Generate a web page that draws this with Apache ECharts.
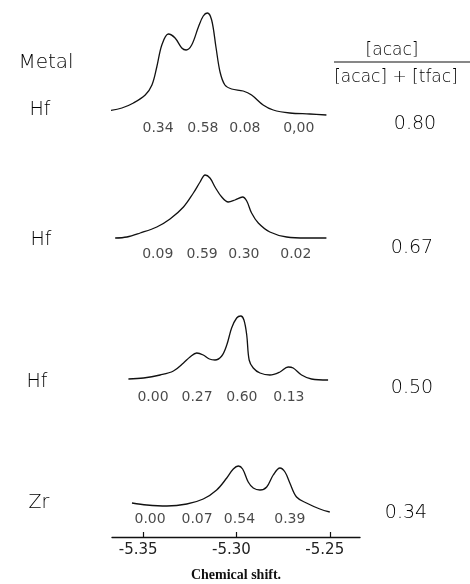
<!DOCTYPE html>
<html>
<head>
<meta charset="utf-8">
<script src="https://cdn.jsdelivr.net/npm/echarts@6/dist/echarts.min.js"></script>
<style>
html,body{margin:0;padding:0;background:#fff;}
#chart{width:470px;height:584px;}
</style>
</head>
<body>
<div id="chart"></div>
<script>
// ---- data (chemical shift, relative intensity) ----
const shiftTicks = [-5.35, -5.30, -5.25];
const metals = ['Hf', 'Hf', 'Hf', 'Zr'];
const ratios = ['0.80', '0.67', '0.50', '0.34'];

const spectrum1 = [[-5.3694,9],[-5.3614,12],[-5.3552,17],[-5.3489,25],[-5.3453,35],[-5.3427,53],[-5.3400,75],[-5.3365,86],[-5.3329,82],[-5.3293,72],[-5.3270,70],[-5.3240,75],[-5.3204,93],[-5.3178,104],[-5.3156,107],[-5.3133,100],[-5.3110,73],[-5.3088,48],[-5.3062,35],[-5.3026,31],[-5.2964,29],[-5.2919,25],[-5.2857,15],[-5.2803,10],[-5.2714,7],[-5.2607,6],[-5.2518,5]];
const spectrum2 = [[-5.3650,7],[-5.3587,8],[-5.3516,12],[-5.3427,18],[-5.3356,26],[-5.3284,38],[-5.3231,52],[-5.3195,63],[-5.3168,70],[-5.3142,67],[-5.3115,58],[-5.3079,48],[-5.3044,43],[-5.3008,45],[-5.2967,48],[-5.2945,44],[-5.2919,32],[-5.2883,22],[-5.2821,13],[-5.2731,8],[-5.2625,7],[-5.2518,7]];
const spectrum3 = [[-5.3579,11],[-5.3498,12],[-5.3409,15],[-5.3338,19],[-5.3284,27],[-5.3249,33],[-5.3213,37],[-5.3178,35],[-5.3145,31],[-5.3115,30],[-5.3079,34],[-5.3052,45],[-5.3026,62],[-5.2999,72],[-5.2977,74],[-5.2960,70],[-5.2945,55],[-5.2932,30],[-5.2910,22],[-5.2874,17],[-5.2821,15],[-5.2767,18],[-5.2723,23],[-5.2696,22],[-5.2651,15],[-5.2598,11],[-5.2509,10]];
const spectrum4 = [[-5.3560,34],[-5.3480,32],[-5.3373,31],[-5.3266,33],[-5.3178,38],[-5.3106,47],[-5.3052,59],[-5.3017,68],[-5.2990,71],[-5.2967,68],[-5.2937,55],[-5.2910,49],[-5.2874,47],[-5.2838,50],[-5.2803,62],[-5.2767,69],[-5.2740,65],[-5.2714,54],[-5.2678,40],[-5.2625,34],[-5.2553,28],[-5.2500,25]];

const fractions1 = ['0.34', '0.58', '0.08', '0,00'];
const fractionShifts1 = [-5.3420, -5.3180, -5.2955, -5.2666];
const fractions2 = ['0.09', '0.59', '0.30', '0.02'];
const fractionShifts2 = [-5.3422, -5.3184, -5.2960, -5.2682];
const fractions3 = ['0.00', '0.27', '0.60', '0.13'];
const fractionShifts3 = [-5.3447, -5.3211, -5.2971, -5.2719];
const fractions4 = ['0.00', '0.07', '0.54', '0.39'];
const fractionShifts4 = [-5.3463, -5.3211, -5.2984, -5.2714];

// ---- layout ----
const spectra = [spectrum1, spectrum2, spectrum3, spectrum4];
const fracs = [fractions1, fractions2, fractions3, fractions4];
const fracShifts = [fractionShifts1, fractionShifts2, fractionShifts3, fractionShifts4];
const gridTops = [10, 135, 280, 427];
const gridHeights = [130, 130, 130, 110];
const yMins = [-20, -20, -20, 0];
const fracLabelY = [-8, -9, -7, 18];
const metalY = [110, 240, 382, 503];
const metalX = [40, 41, 37, 39];
const ratioY = [124, 248, 388, 513];
const ratioX = [415, 412, 412, 406];
const XMIN = -5.3667, XMAX = -5.2338;
const ink = '#111';
const sans = '"DejaVu Sans", "Noto Sans", sans-serif';

const bigText = (x, y, text, size) => ({ type: 'text', x: x, y: y, style: { text: text, fontSize: size, fontFamily: sans, fontWeight: 200, fill: '#000', align: 'center', verticalAlign: 'middle' } });

const grids = [], xAxes = [], yAxes = [], series = [];
for (let i = 0; i < 4; i++) {
  grids.push({ left: 112, width: 248, top: gridTops[i], height: gridHeights[i] });
  const last = i === 3;
  xAxes.push({
    gridIndex: i, type: 'value', min: XMIN, max: XMAX, show: last,
    splitLine: { show: false },
    axisLine: { show: last, onZero: false, lineStyle: { color: ink, width: 1.4 } },
    axisTick: { show: last, inside: true, length: 5, customValues: shiftTicks, lineStyle: { color: ink, width: 1.2 } },
    axisLabel: {
      show: last, customValues: shiftTicks, margin: 6, color: '#222', fontSize: 15,
      fontFamily: sans, padding: [0, 10, 0, 0],
      formatter: v => v.toFixed(2)
    },
    name: last ? 'Chemical shift.' : '',
    nameLocation: 'middle', nameGap: 31,
    nameTextStyle: { fontFamily: '"Liberation Serif", "DejaVu Serif", serif', fontWeight: 'bold', fontSize: 14, color: ink }
  });
  yAxes.push({ gridIndex: i, type: 'value', min: yMins[i], max: yMins[i] + gridHeights[i], show: false, splitLine: { show: false } });
  series.push({
    type: 'line', xAxisIndex: i, yAxisIndex: i, data: spectra[i], smooth: 0.35,
    showSymbol: false, clip: false, silent: true,
    lineStyle: { color: ink, width: 1.3 }
  });
  series.push({
    type: 'scatter', xAxisIndex: i, yAxisIndex: i, clip: false, silent: true,
    symbolSize: 1, itemStyle: { color: 'rgba(0,0,0,0)' },
    data: fracs[i].map((t, j) => ({ name: t, value: [fracShifts[i][j], fracLabelY[i]] })),
    label: { show: true, position: 'inside', formatter: '{b}', fontSize: 14, color: '#1a1a1a', fontFamily: sans }
  });
}

const graphics = [];
graphics.push(bigText(46, 63, 'Metal', 20));
for (let i = 0; i < 4; i++) {
  graphics.push(bigText(metalX[i], metalY[i], metals[i], 19));
  graphics.push(bigText(ratioX[i], ratioY[i], ratios[i], 19));
}
graphics.push(bigText(392, 51, '[acac]', 17));
graphics.push({ type: 'line', shape: { x1: 334, y1: 62, x2: 470, y2: 62 }, style: { stroke: ink, lineWidth: 1.2 } });
graphics.push(bigText(396, 78, '[acac] + [tfac]', 17));

const chart = echarts.init(document.getElementById('chart'), null, { renderer: 'canvas' });
chart.setOption({
  animation: false,
  backgroundColor: '#fff',
  grid: grids, xAxis: xAxes, yAxis: yAxes, series: series,
  graphic: graphics
});
</script>
</body>
</html>
